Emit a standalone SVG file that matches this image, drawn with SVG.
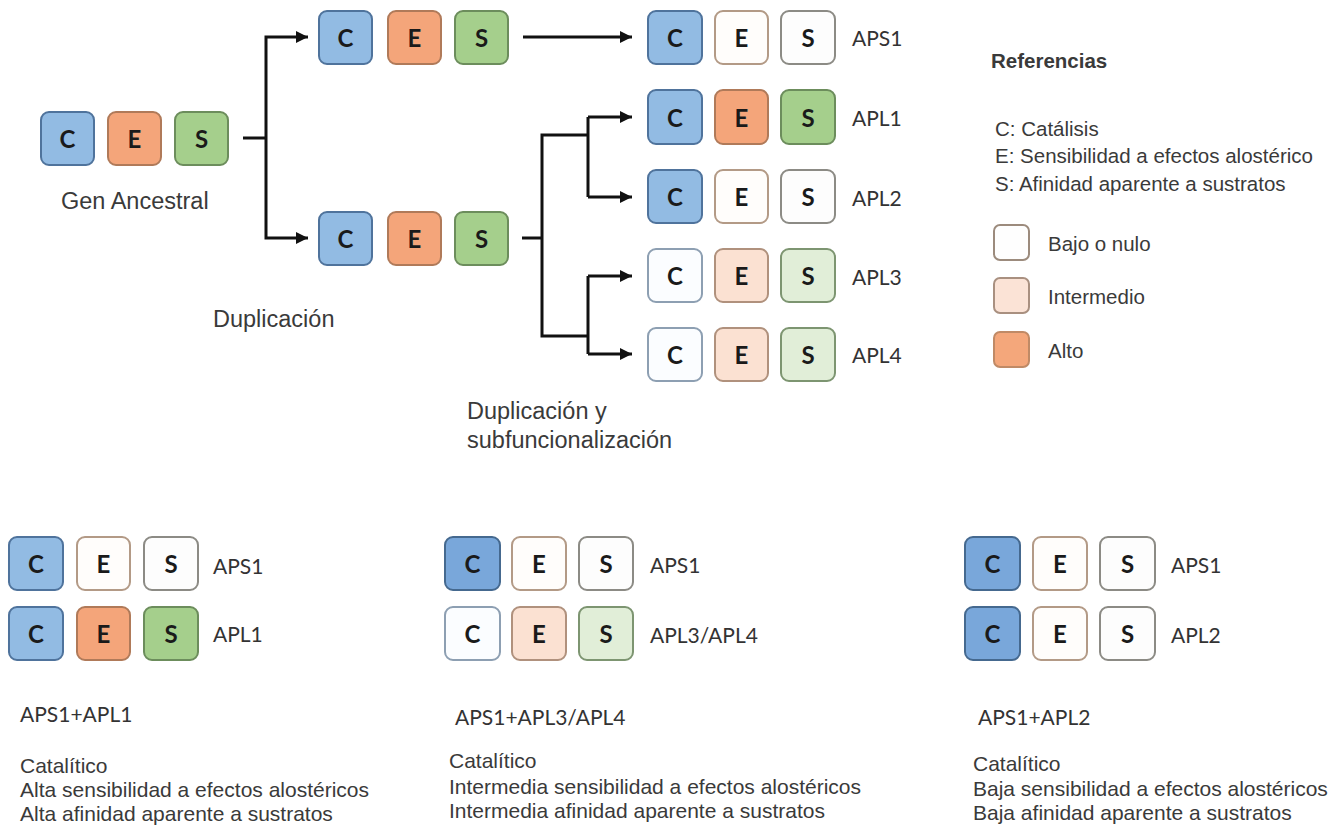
<svg xmlns="http://www.w3.org/2000/svg" width="1343" height="829" viewBox="0 0 1343 829">
<defs>
<style>
.b{stroke-width:2;rx:8;ry:8}
.blue{fill:#92bbe3;stroke:#4f739c}
.blue2{fill:#79a7da;stroke:#45698f}
.org{fill:#f4a57a;stroke:#b07a59}
.grn{fill:#a5cf8c;stroke:#6c8d5c}
.wc{fill:#fbfdff;stroke:#8d9fb2}
.we{fill:#fffdfb;stroke:#b39a86}
.ws{fill:#fdfdfd;stroke:#8c8b85}
.lorg{fill:#fbe1d2;stroke:#b0917d}
.lgrn{fill:#e1eed8;stroke:#7d9571}
.L{font-family:Lato,"Open Sans",sans-serif;font-weight:700;font-size:24px;fill:#1a1a1a;text-anchor:middle;dominant-baseline:central}
.lab{font-family:Lato,"Open Sans",sans-serif;font-size:21px;fill:#333;dominant-baseline:central}
.t{font-family:"Liberation Sans",Arial,sans-serif;font-size:21px;fill:#3a3a3a;dominant-baseline:central}
.big{font-family:"Liberation Sans",Arial,sans-serif;font-size:23.5px;fill:#3a3a3a;dominant-baseline:central}
.lg{font-family:"Liberation Sans",Arial,sans-serif;font-size:20.5px;fill:#3a3a3a;dominant-baseline:central}
.lb{stroke-width:2;rx:6;ry:6}
.con{fill:none;stroke:#111;stroke-width:3}
</style>
<marker id="ah" markerUnits="userSpaceOnUse" markerWidth="14" markerHeight="14" refX="12" refY="7" orient="auto">
<path d="M0,1 L12,7 L0,13 Z" fill="#111"/>
</marker>
</defs>
<rect width="1343" height="829" fill="#fff"/>

<g id="connectors">
<path class="con" d="M243,138 H266"/>
<path class="con" d="M266,138 V37 H308" marker-end="url(#ah)"/>
<path class="con" d="M266,138 V238 H308" marker-end="url(#ah)"/>
<path class="con" d="M523,37 H632" marker-end="url(#ah)"/>
<path class="con" d="M522,238 H542"/>
<path class="con" d="M588,135 H542 V336 H588"/>
<path class="con" d="M588,117 V197"/>
<path class="con" d="M588,117 H632" marker-end="url(#ah)"/>
<path class="con" d="M588,197 H632" marker-end="url(#ah)"/>
<path class="con" d="M588,276 V354"/>
<path class="con" d="M588,276 H632" marker-end="url(#ah)"/>
<path class="con" d="M588,354 H632" marker-end="url(#ah)"/>
</g>

<g id="gen-ancestral">
<rect class="b blue" x="41" y="112" width="53" height="53"/><text class="L" x="67.5" y="138.5">C</text>
<rect class="b org" x="108" y="112" width="53" height="53"/><text class="L" x="134.5" y="138.5">E</text>
<rect class="b grn" x="175" y="112" width="53" height="53"/><text class="L" x="201.5" y="138.5">S</text>
<text class="big" x="61" y="201">Gen Ancestral</text>
</g>

<g id="dup-top">
<rect class="b blue" x="319" y="11" width="53" height="53"/><text class="L" x="345.5" y="37.5">C</text>
<rect class="b org" x="388" y="11" width="53" height="53"/><text class="L" x="414.5" y="37.5">E</text>
<rect class="b grn" x="455" y="11" width="53" height="53"/><text class="L" x="481.5" y="37.5">S</text>
</g>

<g id="dup-bottom">
<rect class="b blue" x="319" y="212" width="53" height="53"/><text class="L" x="345.5" y="238.5">C</text>
<rect class="b org" x="388" y="212" width="53" height="53"/><text class="L" x="414.5" y="238.5">E</text>
<rect class="b grn" x="455" y="212" width="53" height="53"/><text class="L" x="481.5" y="238.5">S</text>
</g>

<g id="label-duplicacion"><text class="big" x="213" y="319">Duplicación</text></g>
<g id="label-subfunc">
<text class="big" x="467" y="411">Duplicación y</text>
<text class="big" x="467" y="440">subfuncionalización</text>
</g>

<g id="APS1">
<rect class="b blue" x="648" y="11" width="54" height="53"/><text class="L" x="675" y="37.5">C</text>
<rect class="b we" x="715" y="11" width="53" height="53"/><text class="L" x="741.5" y="37.5">E</text>
<rect class="b ws" x="781" y="11" width="54" height="53"/><text class="L" x="808" y="37.5">S</text>
<text class="lab" x="852" y="37">APS1</text>
</g>
<g id="APL1">
<rect class="b blue" x="648" y="90" width="54" height="54"/><text class="L" x="675" y="117">C</text>
<rect class="b org" x="715" y="90" width="53" height="54"/><text class="L" x="741.5" y="117">E</text>
<rect class="b grn" x="781" y="90" width="54" height="54"/><text class="L" x="808" y="117">S</text>
<text class="lab" x="852" y="117">APL1</text>
</g>
<g id="APL2">
<rect class="b blue" x="648" y="170" width="54" height="53"/><text class="L" x="675" y="196.5">C</text>
<rect class="b we" x="715" y="170" width="53" height="53"/><text class="L" x="741.5" y="196.5">E</text>
<rect class="b ws" x="781" y="170" width="54" height="53"/><text class="L" x="808" y="196.5">S</text>
<text class="lab" x="852" y="197">APL2</text>
</g>
<g id="APL3">
<rect class="b wc" x="648" y="249" width="54" height="53"/><text class="L" x="675" y="275.5">C</text>
<rect class="b lorg" x="715" y="249" width="53" height="53"/><text class="L" x="741.5" y="275.5">E</text>
<rect class="b lgrn" x="781" y="249" width="54" height="53"/><text class="L" x="808" y="275.5">S</text>
<text class="lab" x="852" y="276">APL3</text>
</g>
<g id="APL4">
<rect class="b wc" x="648" y="328" width="54" height="53"/><text class="L" x="675" y="354.5">C</text>
<rect class="b lorg" x="715" y="328" width="53" height="53"/><text class="L" x="741.5" y="354.5">E</text>
<rect class="b lgrn" x="781" y="328" width="54" height="53"/><text class="L" x="808" y="354.5">S</text>
<text class="lab" x="852" y="354">APL4</text>
</g>

<g id="legend">
<text class="lg" x="991" y="60" font-weight="700" font-size="21.5">Referencias</text>
<text class="lg" x="995" y="128">C: Catálisis</text>
<text class="lg" x="995" y="155">E: Sensibilidad a efectos alostérico</text>
<text class="lg" x="995" y="183">S: Afinidad aparente a sustratos</text>
<rect class="lb" x="994" y="225" width="35" height="35" fill="#fefefe" stroke="#9c8b7d"/>
<text class="lg" x="1048" y="243">Bajo o nulo</text>
<rect class="lb" x="994" y="278" width="35" height="35" fill="#fbe3d6" stroke="#a99080"/>
<text class="lg" x="1048" y="296">Intermedio</text>
<rect class="lb" x="994" y="332" width="35" height="35" fill="#f4a77b" stroke="#c08a66"/>
<text class="lg" x="1048" y="350">Alto</text>
</g>

<g id="panel-APS1-APL1">
<rect class="b blue" x="9" y="537" width="54" height="53"/><text class="L" x="36" y="563.5">C</text>
<rect class="b we" x="77" y="537" width="53" height="53"/><text class="L" x="103.5" y="563.5">E</text>
<rect class="b ws" x="144" y="537" width="54" height="53"/><text class="L" x="171" y="563.5">S</text>
<text class="lab" x="213" y="565">APS1</text>
<rect class="b blue" x="9" y="607" width="54" height="53"/><text class="L" x="36" y="633.5">C</text>
<rect class="b org" x="77" y="607" width="53" height="53"/><text class="L" x="103.5" y="633.5">E</text>
<rect class="b grn" x="144" y="607" width="54" height="53"/><text class="L" x="171" y="633.5">S</text>
<text class="lab" x="213" y="633">APL1</text>
<text class="lab" x="20" y="713">APS1+APL1</text>
<text class="t" x="20" y="765">Catalítico</text>
<text class="t" x="20" y="789">Alta sensibilidad a efectos alostéricos</text>
<text class="t" x="20" y="813">Alta afinidad aparente a sustratos</text>
</g>

<g id="panel-APS1-APL34">
<rect class="b blue2" x="445" y="537" width="55" height="53"/><text class="L" x="472.5" y="563.5">C</text>
<rect class="b we" x="512" y="537" width="54" height="53"/><text class="L" x="539" y="563.5">E</text>
<rect class="b ws" x="579" y="537" width="54" height="53"/><text class="L" x="606" y="563.5">S</text>
<text class="lab" x="650" y="564">APS1</text>
<rect class="b wc" x="445" y="607" width="55" height="53"/><text class="L" x="472.5" y="633.5">C</text>
<rect class="b lorg" x="512" y="607" width="54" height="53"/><text class="L" x="539" y="633.5">E</text>
<rect class="b lgrn" x="579" y="607" width="54" height="53"/><text class="L" x="606" y="633.5">S</text>
<text class="lab" x="650" y="634">APL3/APL4</text>
<text class="lab" x="455" y="716">APS1+APL3/APL4</text>
<text class="t" x="449" y="760">Catalítico</text>
<text class="t" x="449" y="786">Intermedia sensibilidad a efectos alostéricos</text>
<text class="t" x="449" y="810">Intermedia afinidad aparente a sustratos</text>
</g>

<g id="panel-APS1-APL2">
<rect class="b blue2" x="965" y="537" width="55" height="53"/><text class="L" x="992.5" y="563.5">C</text>
<rect class="b we" x="1033" y="537" width="54" height="53"/><text class="L" x="1060" y="563.5">E</text>
<rect class="b ws" x="1100" y="537" width="55" height="53"/><text class="L" x="1127.5" y="563.5">S</text>
<text class="lab" x="1171" y="564">APS1</text>
<rect class="b blue2" x="965" y="607" width="55" height="53"/><text class="L" x="992.5" y="633.5">C</text>
<rect class="b we" x="1033" y="607" width="54" height="53"/><text class="L" x="1060" y="633.5">E</text>
<rect class="b ws" x="1100" y="607" width="55" height="53"/><text class="L" x="1127.5" y="633.5">S</text>
<text class="lab" x="1171" y="634">APL2</text>
<text class="lab" x="978" y="716">APS1+APL2</text>
<text class="t" x="973" y="763">Catalítico</text>
<text class="t" x="973" y="788">Baja sensibilidad a efectos alostéricos</text>
<text class="t" x="973" y="812">Baja afinidad aparente a sustratos</text>
</g>
</svg>
